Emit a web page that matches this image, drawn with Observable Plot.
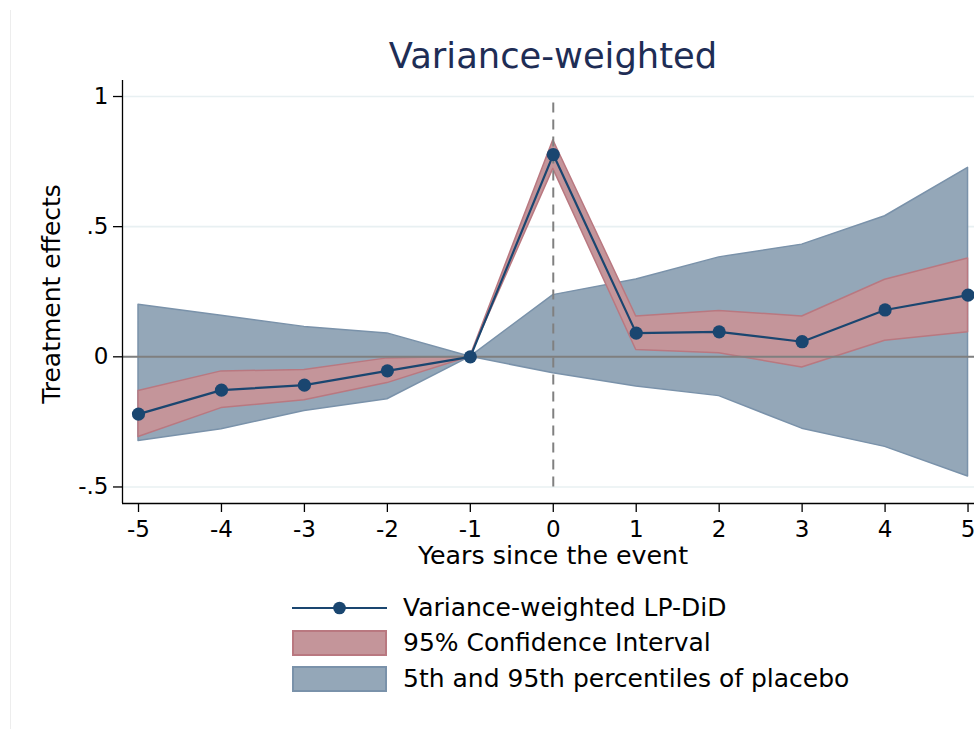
<!DOCTYPE html>
<html>
<head>
<meta charset="utf-8">
<script src="https://cdn.jsdelivr.net/npm/d3@7"></script>
<script src="https://cdn.jsdelivr.net/npm/@observablehq/plot@0.6"></script>
<style>
  body { margin: 0; background: white; font-family: "DejaVu Sans", sans-serif; }
  #wrap { position: relative; width: 974px; height: 729px; overflow: hidden; background: white; }
  #chart { position: absolute; left: 0; top: 0; }
  .abs { position: absolute; white-space: nowrap; }
  #title { left: 353px; width: 400px; text-align: center; top: 38px; font-size: 35.3px; line-height: 35px; color: #1e2d55; }
  #ylab { font-size: 25px; line-height: 20px; color: #000; left: 52px; top: 294px; transform: translate(-50%, -50%) rotate(-90deg); }
  #xlab { font-size: 25.3px; line-height: 18px; color: #000; left: 353px; width: 400px; text-align: center; top: 546.5px; }
  #legend { left: 292px; top: 590px; font-size: 25px; color: #000; }
  .row { display: flex; align-items: center; height: 35.5px; }
  .row svg { display: block; margin-right: 16px; }
  .row span { line-height: 24px; }
  #border { left: 10px; top: 10px; width: 1px; height: 719px; background: #ededed; }
</style>
</head>
<body>
<div id="wrap">
  <div id="chart"></div>
  <div id="border" class="abs"></div>
  <div id="title" class="abs"></div>
  <div id="ylab" class="abs"></div>
  <div id="xlab" class="abs"></div>
  <div id="legend" class="abs"></div>
</div>
<script>
// ---- data ----
const years = [-5, -4, -3, -2, -1, 0, 1, 2, 3, 4, 5];
const effect = [-0.220, -0.128, -0.109, -0.054, 0, 0.777, 0.091, 0.096, 0.058, 0.180, 0.237];
const ciLow = [-0.308, -0.197, -0.167, -0.101, 0, 0.722, 0.026, 0.014, -0.041, 0.062, 0.094];
const ciHigh = [-0.131, -0.056, -0.051, -0.006, 0, 0.832, 0.155, 0.176, 0.155, 0.296, 0.378];
const placeboLow = [-0.323, -0.278, -0.208, -0.163, 0, -0.063, -0.114, -0.151, -0.276, -0.346, -0.460];
const placeboHigh = [0.200, 0.158, 0.115, 0.090, 0, 0.237, 0.297, 0.382, 0.431, 0.540, 0.726];

const yTicks = [-0.5, 0, 0.5, 1];
const yTickLabels = ["-.5", "0", ".5", "1"];
const xTicks = years;

const titleText = "Variance-weighted";
const xLabel = "Years since the event";
const yLabel = "Treatment effects";
const legendLabels = ["Variance-weighted LP-DiD", "95% Confidence Interval", "5th and 95th percentiles of placebo"];

const eventYear = 0;
const xDomain = [-5.193, 5.078];
const yDomain = [-0.5635, 1.0615];

// colours
const navy = "#1a4670";
const ciFill = "#c4959a", ciStroke = "#b97880";
const plFill = "#94a7b8", plStroke = "#7a92aa";

const data = years.map((x, i) => ({
  x, effect: effect[i], ciLow: ciLow[i], ciHigh: ciHigh[i],
  plLow: placeboLow[i], plHigh: placeboHigh[i]
}));

const chart = Plot.plot({
  width: 974,
  height: 545,
  marginTop: 80,
  marginBottom: 42,
  marginLeft: 122,
  marginRight: 0,
  style: { fontFamily: "DejaVu Sans", fontSize: "23px", background: "white", color: "black", overflow: "hidden" },
  x: { domain: xDomain },
  y: { domain: yDomain },
  marks: [
    Plot.gridY(yTicks, { stroke: "#e8f0f2", strokeOpacity: 1, strokeWidth: 1.6 }),
    Plot.areaY(data, { x: "x", y1: "plLow", y2: "plHigh", fill: plFill, stroke: plStroke, strokeWidth: 1.5 }),
    Plot.areaY(data, { x: "x", y1: "ciLow", y2: "ciHigh", fill: ciFill, stroke: ciStroke, strokeWidth: 1.5 }),
    Plot.ruleY([0], { stroke: "#7f7f7f", strokeWidth: 2 }),
    Plot.ruleX([eventYear], { y1: yTicks[0], y2: 0.985, stroke: "#808080", strokeWidth: 2, strokeDasharray: "10,7" }),
    Plot.line(data, { x: "x", y: "effect", stroke: navy, strokeWidth: 2.2 }),
    Plot.dot(data, { x: "x", y: "effect", r: 6.6, fill: navy, stroke: "none" }),
    Plot.ruleX([xDomain[0]], { stroke: "black", strokeWidth: 1.3 }),
    Plot.ruleY([yDomain[0]], { stroke: "black", strokeWidth: 1.3 }),
    Plot.axisX(xTicks, { tickSize: 9, tickPadding: 8, tickFormat: d => String(d).replace("−", "-"), label: null, stroke: "black", strokeWidth: 1.3 }),
    Plot.axisY(yTicks, { tickSize: 9, tickPadding: 5, tickFormat: d => yTickLabels[yTicks.indexOf(d)], label: null, stroke: "black", strokeWidth: 1.3 })
  ]
});
document.getElementById("chart").appendChild(chart);

document.getElementById("title").textContent = titleText;
document.getElementById("xlab").textContent = xLabel;
document.getElementById("ylab").textContent = yLabel;

// legend
const leg = document.getElementById("legend");
const swW = 95, swH = 24;
function row(svgInner, label) {
  const r = document.createElement("div");
  r.className = "row";
  r.innerHTML = `<svg width="${swW}" height="${swH + 2}">${svgInner}</svg><span>${label}</span>`;
  leg.appendChild(r);
}
row(`<line x1="0" x2="${swW}" y1="${(swH + 2) / 2}" y2="${(swH + 2) / 2}" stroke="${navy}" stroke-width="2.2"/>
     <circle cx="${swW / 2}" cy="${(swH + 2) / 2}" r="6.3" fill="${navy}"/>`, legendLabels[0]);
row(`<rect x="1" y="1" width="${swW - 2}" height="${swH}" fill="${ciFill}" stroke="${ciStroke}" stroke-width="2"/>`, legendLabels[1]);
row(`<rect x="1" y="1" width="${swW - 2}" height="${swH}" fill="${plFill}" stroke="${plStroke}" stroke-width="2"/>`, legendLabels[2]);
</script>
</body>
</html>
